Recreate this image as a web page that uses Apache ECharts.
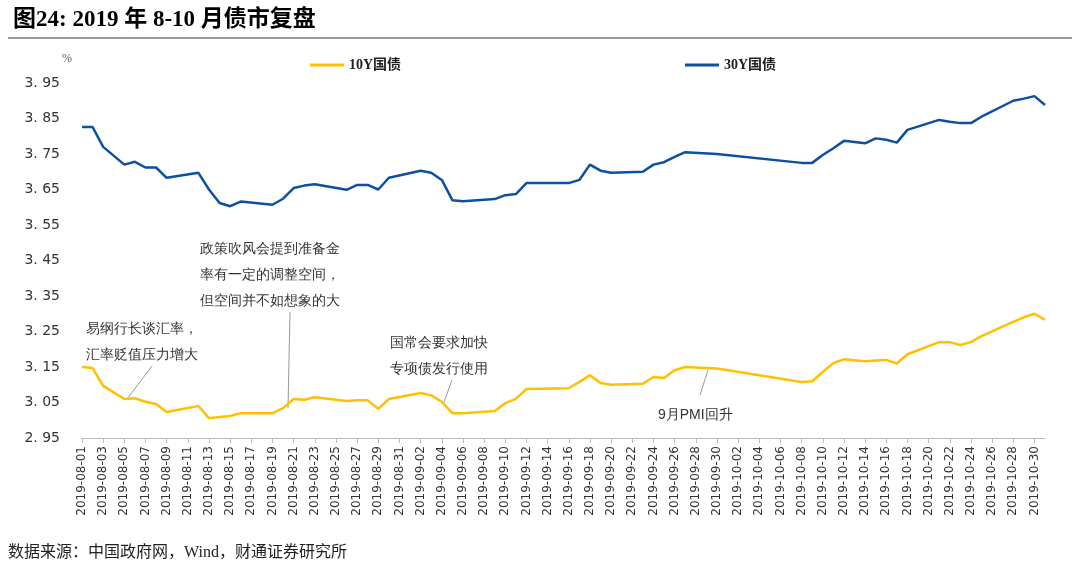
<!DOCTYPE html>
<html>
<head>
<meta charset="utf-8">
<script src="https://cdn.jsdelivr.net/npm/echarts@6/dist/echarts.min.js"></script>
<style>
body { margin: 0; background: #fff; }
#main { width: 1080px; height: 570px; }
</style>
</head>
<body>
<div id="main"></div>
<script>
// build every calendar day from 08-01 to 10-31
var days = [];
var d = new Date(Date.UTC(2019, 7, 1));
while (d.getUTCMonth() <= 9) {
    days.push(d.toISOString().slice(0, 10));
    d.setUTCDate(d.getUTCDate() + 1);
}

// yields, [10Y, 30Y]
var yields = {
    '2019-08-01': [3.150, 3.826], '2019-08-02': [3.147, 3.826], '2019-08-03': [3.097, 3.770],
    '2019-08-05': [3.060, 3.720], '2019-08-06': [3.062, 3.728], '2019-08-07': [3.052, 3.712],
    '2019-08-08': [3.046, 3.712], '2019-08-09': [3.023, 3.683], '2019-08-12': [3.040, 3.697],
    '2019-08-13': [3.006, 3.650], '2019-08-14': [3.009, 3.612], '2019-08-15': [3.012, 3.603],
    '2019-08-16': [3.020, 3.616], '2019-08-19': [3.020, 3.607], '2019-08-20': [3.034, 3.624],
    '2019-08-21': [3.060, 3.654], '2019-08-22': [3.058, 3.661], '2019-08-23': [3.065, 3.665],
    '2019-08-26': [3.054, 3.649], '2019-08-27': [3.056, 3.663], '2019-08-28': [3.056, 3.663],
    '2019-08-29': [3.032, 3.650], '2019-08-30': [3.060, 3.683], '2019-09-02': [3.077, 3.703],
    '2019-09-03': [3.070, 3.697], '2019-09-04': [3.052, 3.677], '2019-09-05': [3.020, 3.620],
    '2019-09-06': [3.020, 3.617], '2019-09-09': [3.026, 3.623], '2019-09-10': [3.048, 3.634],
    '2019-09-11': [3.060, 3.637], '2019-09-12': [3.088, 3.668], '2019-09-16': [3.090, 3.668],
    '2019-09-17': [3.108, 3.677], '2019-09-18': [3.127, 3.720], '2019-09-19': [3.105, 3.703],
    '2019-09-20': [3.100, 3.697], '2019-09-23': [3.103, 3.700], '2019-09-24': [3.122, 3.720],
    '2019-09-25': [3.119, 3.727], '2019-09-26': [3.141, 3.742], '2019-09-27': [3.150, 3.755],
    '2019-09-30': [3.146, 3.750], '2019-10-08': [3.108, 3.725], '2019-10-09': [3.110, 3.725],
    '2019-10-10': [3.136, 3.747], '2019-10-11': [3.161, 3.766], '2019-10-12': [3.172, 3.787],
    '2019-10-14': [3.166, 3.780], '2019-10-15': [3.168, 3.794], '2019-10-16': [3.170, 3.790],
    '2019-10-17': [3.160, 3.782], '2019-10-18': [3.186, 3.818], '2019-10-21': [3.220, 3.846],
    '2019-10-22': [3.220, 3.841], '2019-10-23': [3.212, 3.837], '2019-10-24': [3.220, 3.837],
    '2019-10-25': [3.237, 3.855], '2019-10-28': [3.277, 3.900], '2019-10-29': [3.290, 3.906],
    '2019-10-30': [3.300, 3.913], '2019-10-31': [3.283, 3.888]
};

var s10 = [], s30 = [];
for (var i = 0; i < days.length; i++) {
    var v = yields[days[i]];
    s10.push(v ? v[0] : null);
    s30.push(v ? v[1] : null);
}

var cjk = '"Liberation Serif", "Noto Sans CJK SC", serif';
var noteStyle = { fontSize: 14, fill: '#333', font: '14px ' + cjk, lineHeight: 26 };

var myChart = echarts.init(document.getElementById('main'));
var option = {
    animation: false,
    textStyle: { fontFamily: cjk },
    title: {
        text: '图24: 2019 年 8-10 月债市复盘',
        left: 8, top: 4,
        textStyle: { fontSize: 23, fontWeight: 'bold', color: '#000', fontFamily: cjk }
    },
    legend: [
        { data: ['10Y国债'], left: 305, top: 53, itemWidth: 34, itemHeight: 3, icon: 'rect',
          textStyle: { fontSize: 14, fontWeight: 'bold', color: '#222' } },
        { data: ['30Y国债'], left: 680, top: 53, itemWidth: 34, itemHeight: 3, icon: 'rect',
          textStyle: { fontSize: 14, fontWeight: 'bold', color: '#222' } }
    ],
    grid: { left: 82, right: 35, top: 83, bottom: 132 },
    xAxis: {
        type: 'category',
        data: days,
        boundaryGap: false,
        axisLine: { lineStyle: { color: '#bbb' } },
        axisTick: { interval: 1, lineStyle: { color: '#bbb' } },
        axisLabel: { interval: 1, rotate: 90, fontSize: 12, color: '#333', fontFamily: 'DejaVu Sans' }
    },
    yAxis: {
        type: 'value',
        min: 2.95, max: 3.95, interval: 0.1,
        name: '%', nameGap: 18,
        nameTextStyle: { color: '#555', fontSize: 12, padding: [0, 30, 0, 0] },
        axisLine: { show: false },
        axisTick: { show: false },
        splitLine: { show: false },
        axisLabel: {
            fontSize: 14, color: '#333', fontFamily: 'DejaVu Sans', margin: 22,
            formatter: function (v) { return v.toFixed(2).replace('.', '. '); }
        }
    },
    series: [
        { name: '10Y国债', type: 'line', data: s10, connectNulls: true, showSymbol: false,
          color: '#FFC000', lineStyle: { width: 2.5, color: '#FFC000' } },
        { name: '30Y国债', type: 'line', data: s30, connectNulls: true, showSymbol: false,
          color: '#0D4FA0', lineStyle: { width: 2.5, color: '#0D4FA0' } }
    ],
    graphic: [
        { type: 'line', shape: { x1: 8, y1: 38, x2: 1072, y2: 38 }, style: { stroke: '#333', lineWidth: 1 } },
        { type: 'text', left: 86, top: 316, style: Object.assign({ text: '易纲行长谈汇率，\n汇率贬值压力增大' }, noteStyle) },
        { type: 'line', shape: { x1: 152, y1: 366, x2: 127, y2: 399 }, style: { stroke: '#999', lineWidth: 1 } },
        { type: 'text', left: 200, top: 236, style: Object.assign({ text: '政策吹风会提到准备金\n率有一定的调整空间，\n但空间并不如想象的大' }, noteStyle) },
        { type: 'line', shape: { x1: 290, y1: 312, x2: 288, y2: 408 }, style: { stroke: '#999', lineWidth: 1 } },
        { type: 'text', left: 390, top: 330, style: Object.assign({ text: '国常会要求加快\n专项债发行使用' }, noteStyle) },
        { type: 'line', shape: { x1: 452, y1: 380, x2: 444, y2: 402 }, style: { stroke: '#999', lineWidth: 1 } },
        { type: 'text', left: 658, top: 402, style: Object.assign({ text: '9月PMI回升' }, noteStyle) },
        { type: 'line', shape: { x1: 708, y1: 370, x2: 700, y2: 395 }, style: { stroke: '#999', lineWidth: 1 } },
        { type: 'text', left: 8, top: 545, style: { text: '数据来源：中国政府网，Wind，财通证券研究所', font: '16px ' + cjk, fill: '#222' } }
    ]
};
myChart.setOption(option);
</script>
</body>
</html>
